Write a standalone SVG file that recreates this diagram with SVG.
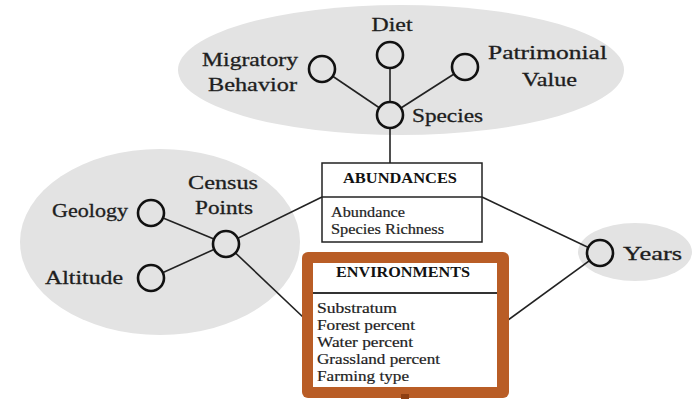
<svg xmlns="http://www.w3.org/2000/svg" width="692" height="399" viewBox="0 0 692 399">
  <style>
    .zone { fill: #e3e3e3; stroke: none; }
    .link { stroke: #222; stroke-width: 1.6; fill: none; }
    .dot { fill: #e3e3e3; stroke: #111; stroke-width: 2.6; }
    .lbl { font-family: 'Liberation Serif', 'DejaVu Serif', serif; font-size: 19px; fill: #1e1e1e; stroke: #1e1e1e; stroke-width: 0.3; }
    .head { font-family: 'Liberation Serif', 'DejaVu Serif', serif; font-size: 14px; font-weight: bold; fill: #111; }
    .attr { font-family: 'Liberation Serif', 'DejaVu Serif', serif; font-size: 14px; fill: #1e1e1e; stroke: #1e1e1e; stroke-width: 0.2; }
  </style>

  <rect width="692" height="399" fill="#fff"/>

  <!-- shaded groupings -->
  <g id="zones">
    <ellipse class="zone" cx="401" cy="70" rx="223" ry="65"/>
    <ellipse class="zone" cx="160" cy="242" rx="140" ry="93"/>
    <ellipse class="zone" cx="635" cy="252" rx="57" ry="29"/>
  </g>

  <!-- connectors -->
  <g id="connectors">
    <line class="link" x1="390" y1="115" x2="322" y2="69"/>
    <line class="link" x1="390" y1="115" x2="390" y2="55"/>
    <line class="link" x1="390" y1="115" x2="465" y2="67"/>
    <line class="link" x1="390" y1="115" x2="390" y2="163"/>
    <line class="link" x1="226" y1="244" x2="151" y2="213"/>
    <line class="link" x1="226" y1="244" x2="151" y2="278"/>
    <line class="link" x1="226" y1="244" x2="322" y2="197"/>
    <line class="link" x1="226" y1="244" x2="304" y2="318"/>
    <line class="link" x1="482" y1="197" x2="600" y2="253"/>
    <line class="link" x1="600" y1="253" x2="508" y2="320"/>
  </g>

  <g id="species">
    <circle class="dot" cx="390" cy="115" r="13"/>
    <text class="lbl" x="412" y="122" textLength="71" lengthAdjust="spacingAndGlyphs">Species</text>
  </g>
  <g id="migratory-behavior">
    <circle class="dot" cx="322" cy="69" r="13"/>
    <text class="lbl" x="298" y="66" text-anchor="end" textLength="96" lengthAdjust="spacingAndGlyphs">Migratory</text>
    <text class="lbl" x="297" y="91" text-anchor="end" textLength="89" lengthAdjust="spacingAndGlyphs">Behavior</text>
  </g>
  <g id="diet">
    <circle class="dot" cx="390" cy="55" r="13"/>
    <text class="lbl" x="392" y="31" text-anchor="middle" textLength="41" lengthAdjust="spacingAndGlyphs">Diet</text>
  </g>
  <g id="patrimonial-value">
    <circle class="dot" cx="465" cy="67" r="13"/>
    <text class="lbl" x="488" y="59" textLength="119" lengthAdjust="spacingAndGlyphs">Patrimonial</text>
    <text class="lbl" x="522" y="86" textLength="55" lengthAdjust="spacingAndGlyphs">Value</text>
  </g>

  <g id="census-points">
    <circle class="dot" cx="226" cy="244" r="13"/>
    <text class="lbl" x="188" y="189" textLength="70" lengthAdjust="spacingAndGlyphs">Census</text>
    <text class="lbl" x="195" y="214" textLength="58" lengthAdjust="spacingAndGlyphs">Points</text>
  </g>
  <g id="geology">
    <circle class="dot" cx="151" cy="213" r="13"/>
    <text class="lbl" x="52" y="217" textLength="76" lengthAdjust="spacingAndGlyphs">Geology</text>
  </g>
  <g id="altitude">
    <circle class="dot" cx="151" cy="278" r="13"/>
    <text class="lbl" x="45" y="284" textLength="78" lengthAdjust="spacingAndGlyphs">Altitude</text>
  </g>

  <g id="years">
    <circle class="dot" cx="600" cy="253" r="13"/>
    <text class="lbl" x="623" y="260" textLength="59" lengthAdjust="spacingAndGlyphs">Years</text>
  </g>

  <g id="abundances">
    <rect x="322" y="163" width="160" height="79" fill="#fff" stroke="#222" stroke-width="1.5"/>
    <line x1="322" y1="197" x2="482" y2="197" stroke="#222" stroke-width="1.5"/>
    <text class="head" x="343" y="183" textLength="114" lengthAdjust="spacingAndGlyphs">ABUNDANCES</text>
    <text class="attr" x="331" y="217" textLength="74" lengthAdjust="spacingAndGlyphs">Abundance</text>
    <text class="attr" x="331" y="234" textLength="113" lengthAdjust="spacingAndGlyphs">Species Richness</text>
  </g>

  <g id="environments">
    <rect x="302" y="252" width="207" height="146" rx="6" fill="#b95d26"/>
    <rect x="313" y="263" width="184" height="124" fill="#fff"/>
    <line x1="313" y1="293" x2="497" y2="293" stroke="#333" stroke-width="1.8"/>
    <rect x="401" y="394" width="8" height="5" fill="#8e3f12"/>
    <text class="head" x="336" y="277" textLength="134" lengthAdjust="spacingAndGlyphs">ENVIRONMENTS</text>
    <text class="attr" x="317" y="313" textLength="80" lengthAdjust="spacingAndGlyphs">Substratum</text>
    <text class="attr" x="317" y="330" textLength="98" lengthAdjust="spacingAndGlyphs">Forest percent</text>
    <text class="attr" x="317" y="347" textLength="96" lengthAdjust="spacingAndGlyphs">Water percent</text>
    <text class="attr" x="317" y="364" textLength="123" lengthAdjust="spacingAndGlyphs">Grassland percent</text>
    <text class="attr" x="317" y="381" textLength="92" lengthAdjust="spacingAndGlyphs">Farming type</text>
  </g>
</svg>
